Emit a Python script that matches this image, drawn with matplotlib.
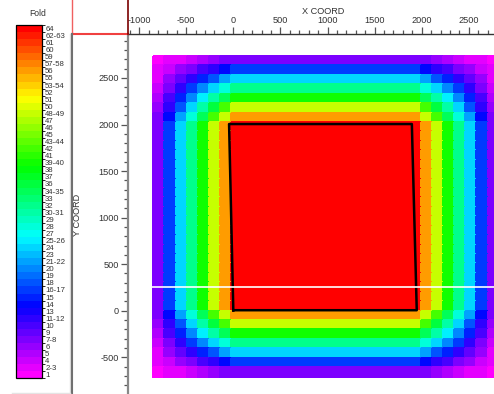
import numpy as np
import matplotlib
matplotlib.use("Agg")
import matplotlib.pyplot as plt
from matplotlib.colors import ListedColormap, BoundaryNorm, hsv_to_rgb
from matplotlib.cm import ScalarMappable
from matplotlib.lines import Line2D

plt.rcParams['font.family'] = ['Liberation Sans Narrow', 'Liberation Sans', 'DejaVu Sans']
plt.rcParams['axes.unicode_minus'] = False

# legend classes, bottom (1) to top (64)
fold_labels = ['1', '2-3', '4', '5', '6', '7-8', '9', '10', '11-12', '13', '14', '15',
               '16-17', '18', '19', '20', '21-22', '23', '24', '25-26', '27', '28', '29',
               '30-31', '32', '33', '34-35', '36', '37', '38', '39-40', '41', '42',
               '43-44', '45', '46', '47', '48-49', '50', '51', '52', '53-54', '55', '56',
               '57-58', '59', '60', '61', '62-63', '64']

# fold contribution per bin column (west -> east) and per bin row (north -> south)
col_fold = [1, 2, 3, 4, 5, 6, 7,
            8, 8, 8, 8, 8, 8, 8, 8, 8, 8, 8, 8, 8, 8, 8, 8, 8,
            7, 6, 5, 4, 3, 2, 1]
row_fold = [1, 2, 3, 4, 5, 6, 7,
            8, 8, 8, 8, 8, 8, 8, 8, 8, 8, 8, 8, 8, 8, 8, 8, 8, 8, 8, 8,
            7, 6, 5, 4, 3, 2, 1]

# survey outline
outline_x = [0, 1947, 1895, -45, 0]
outline_y = [5, 5, 2005, 2005, 5]

# bin grid geometry
x_origin, bin_dx = -850.0, 118.3
y_origin, bin_dy = 2736.0, -101.3

W, H = 494, 394


def fx(x):
    return x / W


def fy(y):
    return 1 - y / H


n_cls = len(fold_labels)
colors = [hsv_to_rgb((0.833 * (n_cls - 1 - k) / (n_cls - 1), 1.0, 1.0)) for k in range(n_cls)]
cmap = ListedColormap(colors)
norm = BoundaryNorm(np.arange(-0.5, n_cls + 0.5), n_cls)

lut = {}
for k, lab in enumerate(fold_labels):
    parts = [int(p) for p in lab.split('-')]
    for v in range(parts[0], parts[-1] + 1):
        lut[v] = k

fold = np.outer(row_fold, col_fold)
cls = np.vectorize(lut.get)(fold)

x_edges = x_origin + bin_dx * np.arange(len(col_fold) + 1)
y_edges = y_origin + bin_dy * np.arange(len(row_fold) + 1)

fig = plt.figure(figsize=(W / 100, H / 100), dpi=100)

ax = fig.add_axes([fx(127.7), 0, (W - 127.7) / W, (H - 34.3) / H])
ax.pcolormesh(x_edges, y_edges, cls, cmap=cmap, norm=norm, shading='flat',
              edgecolors='face', linewidth=0.3)
ax.plot(outline_x, outline_y, color='black', lw=1.8)
ax.axhline(251, color='white', lw=1.2)
ax.set_xlim(-1121, 2767)
ax.set_ylim(-895, 2969)

ax.xaxis.tick_top()
ax.set_xticks(np.arange(-1000, 2501, 500))
ax.set_xticks(np.arange(-1100, 2800, 100), minor=True)
ax.set_yticks(np.arange(-500, 2501, 500))
ax.set_yticks(np.arange(-800, 2901, 100), minor=True)
ax.tick_params(which='major', length=5, width=0.9, color='#555555',
               labelsize=6.6, labelcolor='#333333', pad=1.5)
ax.tick_params(which='minor', length=3, width=0.9, color='#555555')
for s in ['right', 'bottom']:
    ax.spines[s].set_visible(False)
ax.spines['top'].set_color('#333333')
ax.spines['top'].set_linewidth(1.0)
ax.spines['left'].set_color('#888888')
ax.spines['left'].set_linewidth(1.6)

fig.text(fx(323), fy(12), 'X COORD', ha='center', va='center', fontsize=6.6, color='#333333')
fig.text(fx(77), fy(215), 'Y COORD', ha='center', va='center', rotation=90,
         fontsize=6.6, color='#333333')

# colour legend
cax = fig.add_axes([fx(15.7), fy(378.3), 26 / W, (378.3 - 25) / H])
cb = fig.colorbar(ScalarMappable(norm=norm, cmap=cmap), cax=cax, ticks=np.arange(n_cls))
cb.set_ticklabels(fold_labels)
cb.outline.set_linewidth(0.9)
cax.tick_params(length=0, pad=2.5, labelsize=5.6, labelcolor='#333333')
fig.text(fx(38), fy(14), 'Fold', ha='center', va='center', fontsize=6.2, color='#333333')

# panel frame lines
frame = [
    ((72, 72), (0, 34.3), '#f06060', 1.0),
    ((72, 127.7), (34.3, 34.3), '#f04040', 1.5),
    ((127.7, 127.7), (0, 34.3), '#7a0000', 1.2),
    ((70.3, 70.3), (34.3, 394), '#dddddd', 1.0),
    ((72.3, 72.3), (34.3, 394), '#707070', 1.5),
    ((12, 70), (392.7, 392.7), '#e4e4e4', 1.0),
]
for xs, ys, c, lw in frame:
    fig.add_artist(Line2D([fx(v) for v in xs], [fy(v) for v in ys], color=c, lw=lw))

fig.savefig('out.png', dpi=100)
print("Sauvegarde : out.png")
